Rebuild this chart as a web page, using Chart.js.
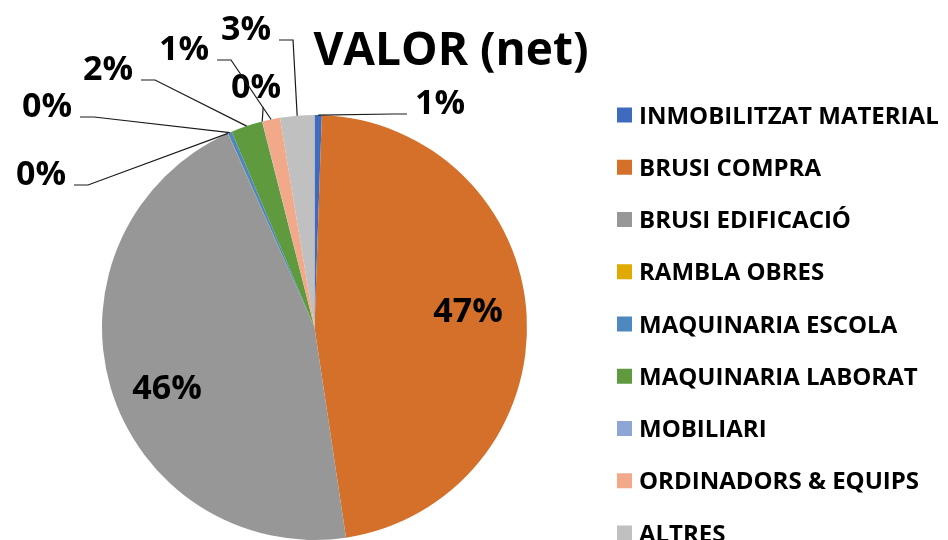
<!DOCTYPE html>
<html>
<head>
<meta charset="utf-8">
<title>VALOR (net)</title>
<script src="https://cdn.jsdelivr.net/npm/chart.js@4.4.1/dist/chart.umd.min.js"></script>
<style>
    html, body { margin: 0; padding: 0; background: #fff; overflow: hidden; }
    #wrap { position: relative; width: 948px; height: 540px; }
</style>
</head>
<body>
<div id="wrap"><canvas id="valorChart"></canvas></div>
<script>
// chart data
const categories = [
    'INMOBILITZAT MATERIAL',
    'BRUSI COMPRA',
    'BRUSI EDIFICACIÓ',
    'RAMBLA OBRES',
    'MAQUINARIA ESCOLA',
    'MAQUINARIA LABORAT',
    'MOBILIARI',
    'ORDINADORS & EQUIPS',
    'ALTRES'
];
const valuesPct = [0.55, 47.1, 45.7, 0.02, 0.3, 2.4, 0.02, 1.35, 2.6];
const sliceColors = ['#3F6BBE', '#D5702B', '#979797', '#E0AA00', '#4F88C1', '#5F9A3F', '#8EA5D6', '#F1A98A', '#C0C0C0'];
const chartTitle = 'VALOR (net)';

// where Excel put each percentage label (centre x, baseline y) and which way its leader runs
const labelPlace = [
    { x: 440, y: 114, side: 'right' },
    { x: 468, y: 322, side: 'inside' },
    { x: 167, y: 399, side: 'inside' },
    { x: 41, y: 185, side: 'left' },
    { x: 47, y: 117, side: 'left' },
    { x: 108, y: 80, side: 'left' },
    { x: 256, y: 98, side: 'below' },
    { x: 184, y: 60, side: 'left' },
    { x: 246, y: 40, side: 'left' }
];

const labelFont = 'bold 34px "Open Sans", sans-serif';

const decorPlugin = {
    id: 'decor',
    afterDatasetsDraw(chart) {
        const c = chart.ctx;
        const meta = chart.getDatasetMeta(0);
        const total = valuesPct.reduce((a, b) => a + b, 0);

        c.save();
        c.font = labelFont;
        c.fillStyle = '#000';
        c.strokeStyle = '#1a1a1a';
        c.lineWidth = 1.2;
        c.textAlign = 'center';
        c.textBaseline = 'alphabetic';

        meta.data.forEach((arc, i) => {
            const p = arc.getProps(['x', 'y', 'startAngle', 'endAngle', 'outerRadius'], true);
            const mid = (p.startAngle + p.endAngle) / 2;
            const ax = p.x + Math.cos(mid) * p.outerRadius;
            const ay = p.y + Math.sin(mid) * p.outerRadius;
            const txt = Math.round(valuesPct[i] / total * 100) + '%';
            const pos = labelPlace[i];
            const w = c.measureText(txt).width;

            if (pos.side !== 'inside') {
                c.beginPath();
                c.moveTo(ax, ay);
                if (pos.side === 'left') {
                    const edge = pos.x + w / 2;
                    c.lineTo(edge + 22, pos.y);
                    c.lineTo(edge + 8, pos.y);
                } else if (pos.side === 'right') {
                    const edge = pos.x - w / 2;
                    c.lineTo(edge - 22, pos.y);
                    c.lineTo(edge - 8, pos.y);
                } else {
                    c.lineTo(ax + 1, pos.y + 9);
                }
                c.stroke();
            }
            c.fillText(txt, pos.x, pos.y);
        });

        // title
        c.font = 'bold 46px "Open Sans", sans-serif';
        c.fillText(chartTitle, 451, 65);

        // legend
        c.textAlign = 'left';
        c.font = 'bold 24px "Open Sans", sans-serif';
        categories.forEach((name, i) => {
            const y = 115 + i * 52.25;
            c.fillStyle = sliceColors[i];
            c.fillRect(617, y - 7.5, 15, 15);
            c.fillStyle = '#000';
            c.fillText(name, 639, y + 8.5);
        });
        c.restore();
    }
};

document.addEventListener('DOMContentLoaded', function() {
    const ctx = document.getElementById('valorChart').getContext('2d');
    const valorChart = new Chart(ctx, {
        type: 'pie',
        data: {
            labels: categories,
            datasets: [{
                data: valuesPct,
                backgroundColor: sliceColors,
                borderWidth: 0
            }]
        },
        options: {
            responsive: true,
            maintainAspectRatio: false,
            animation: false,
            layout: {
                padding: { left: 101, top: 115, right: 420, bottom: -2 }
            },
            plugins: {
                legend: { display: false },
                title: { display: false },
                tooltip: { enabled: false }
            }
        },
        plugins: [decorPlugin]
    });
});
</script>
</body>
</html>
